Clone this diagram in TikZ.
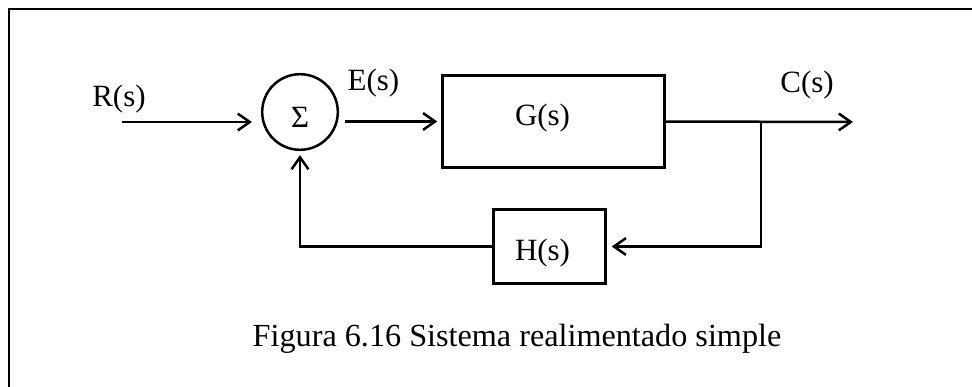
\documentclass[tikz,border=0pt]{standalone}
\usepackage{fontspec}
\setmainfont{Liberation Serif}
\usetikzlibrary{arrows.meta}

\begin{document}
\begin{tikzpicture}[x=0.025cm,y=-0.025cm,line width=0.0625cm,
  block/.style={draw,rectangle,inner sep=0pt},
  sumnode/.style={draw,circle,inner sep=0pt,minimum size=1.89cm},
  lbl/.style={anchor=base,inner sep=0pt,font=\fontsize{22}{26}\selectfont},
  arr/.style={-{Straight Barb[length=0.3cm,width=0.42cm]}}]
\useasboundingbox (0,0) rectangle (972,387);
% frame (only top and left edges show)
\draw (972,9) -- (9,9) -- (9,387);
% blocks
\node[sumnode] (sum) at (300,112) {};
\node[block,minimum width=5.55cm,minimum height=2.3cm] (G) at (553.5,121.5) {};
\node[block,minimum width=2.8cm,minimum height=1.85cm] (H) at (549.5,246.5) {};
\node[lbl] (sigma) at (300,128) {Σ};
\node[lbl] (gs) at (542.5,125) {G(s)};
\node[lbl] (hs) at (542.5,260) {H(s)};
% signals
\node[lbl] (rs) at (119,107) {R(s)};
\node[lbl] (es) at (373.5,90) {E(s)};
\node[lbl] (cs) at (807,92) {C(s)};
\coordinate (rin) at (122,122);
\coordinate (br) at (761,122);
\coordinate (cout) at (853,122);
\draw[arr,shorten >=0.225cm] (rin) -- (sum.west |- rin);
\draw[arr,shorten <=0.15cm,shorten >=0.1cm] (sum.east |- G.west) -- (G.west);
\draw[arr] (G.east) -- (cout);
\draw[arr,shorten >=0.125cm] (br) |- (H.east);
\draw[arr,shorten >=0.1cm] (H.west) -| (sum.south);
% caption
\node[anchor=base,inner sep=0pt,font=\fontsize{22.9}{27}\selectfont] (cap) at (517,346)
  {Figura 6.16 Sistema realimentado simple};
\end{tikzpicture}
\end{document}
